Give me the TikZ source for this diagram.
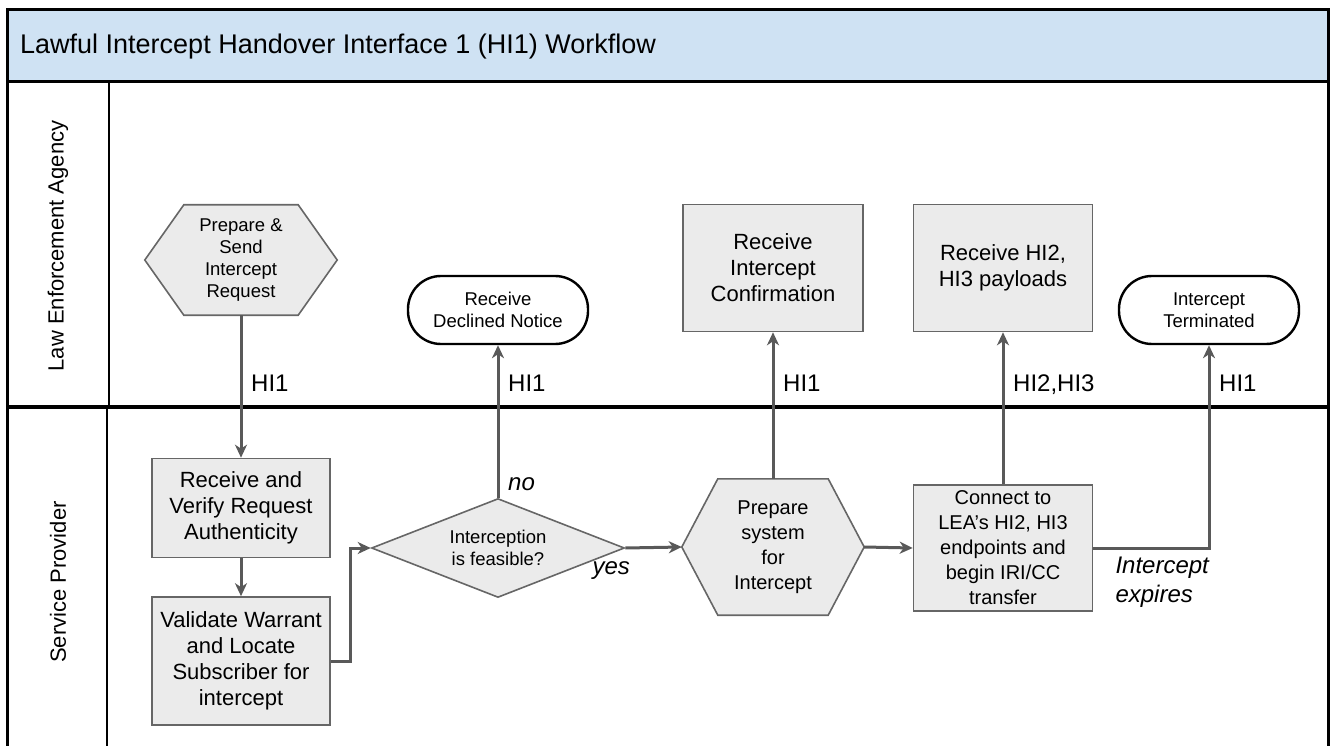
\documentclass[tikz,border=0pt]{standalone}
\usepackage{fontspec}
\setmainfont{Liberation Sans}
\usepackage{tikz}
\usetikzlibrary{arrows.meta,calc,positioning,shapes.geometric,backgrounds}
\definecolor{titleblue}{HTML}{CFE2F3}
\definecolor{boxgray}{HTML}{EBEBEB}
\definecolor{edgegray}{HTML}{666666}
\definecolor{flowgray}{HTML}{595959}
\newcommand{\fsz}[2]{\fontsize{#1}{#2}\selectfont}

\begin{document}
\begin{tikzpicture}[
    x=1pt, y=-1pt,
    swimlane/.style={draw=black,line width=3pt},
    lanetext/.style={rotate=90,font=\fsz{22}{26}},
    stepbox/.style={draw=edgegray,line width=1.6pt,fill=boxgray,align=center,
      inner sep=0pt,font=\fsz{22}{26}},
    hexbox/.style={inner sep=0pt,align=center},
    hexedge/.style={draw=edgegray,line width=1.6pt,fill=boxgray},
    stopbox/.style={draw=black,line width=2.4pt,fill=white,rounded corners=33pt,
      minimum width=180pt,minimum height=68pt,align=center,inner sep=0pt,
      font=\fsz{18.5}{22}},
    choice/.style={diamond,aspect=2.55,draw=edgegray,line width=1.6pt,fill=boxgray,
      align=center,inner sep=0pt,minimum width=253pt,minimum height=99pt,
      font=\fsz{18.5}{22}},
    flowarrow/.style={draw=flowgray,line width=3pt,
      -{Stealth[length=13pt,width=12pt,inset=4pt]}},
    hitext/.style={anchor=west,xshift=10pt,inner sep=0pt,text depth=0pt,
      font=\fsz{24}{28}},
    guardtext/.style={inner sep=0pt,align=left,font=\fsz{24}{29}\itshape}
  ]
    \useasboundingbox (0,0) rectangle (1334,746);

    % frame and lanes
    \path[fill=titleblue] (7,10) rectangle (1328,82);
    \node[anchor=west,inner sep=0pt,font=\fsz{27}{31}] (title) at (20,47)
      {Lawful Intercept Handover Interface 1 (HI1) Workflow};
    \draw[swimlane] (7,746) -- (7,10) -- (1328,10) -- (1328,746);
    \draw[swimlane] (7,82) -- (1328,82);
    \draw[swimlane,line width=4.5pt] (7,407) -- (1328,407);
    \draw[line width=2.5pt] (109,82) -- (109,407);
    \draw[line width=2.5pt] (107,407) -- (107,746);
    \node[lanetext] (lea) at (58,246) {Law Enforcement Agency};
    \node[lanetext] (provider) at (58,582) {Service Provider};
    \coordinate (hirow) at (0,383);

    % law enforcement agency
    \node[hexbox,minimum width=192pt,minimum height=110pt,font=\fsz{18.5}{21.7}]
      (sendreq) at (241,260) {Prepare \&\\Send\\Intercept\\Request};
    \node[stopbox] (declined) at (498,310) {Receive\\Declined Notice};
    \node[stepbox,minimum width=180pt,minimum height=127pt] (confirm) at (773,268)
      {Receive\\Intercept\\Confirmation};
    \node[stepbox,minimum width=179pt,minimum height=127pt] (payload) at (1003,268)
      {Receive HI2,\\HI3 payloads};
    \node[stopbox] (ended) at (1209,310) {Intercept\\Terminated};

    % service provider
    \node[stepbox,minimum width=178pt,minimum height=99pt] (verify) at (241,508)
      {Receive and\\Verify Request\\Authenticity};
    \node[stepbox,minimum width=178pt,minimum height=128pt] (validate) at (241,661)
      {Validate Warrant\\and Locate\\Subscriber for\\intercept};
    \node[choice] (feasible) at (498,548) {Interception\\is feasible?};
    \node[hexbox,minimum width=182pt,minimum height=136pt,font=\fsz{20}{25}]
      (prepsys) at (773,547) {Prepare\\system\\for\\Intercept};
    \node[stepbox,minimum width=179pt,minimum height=126pt,font=\fsz{20}{25}]
      (connect) at (1003,548)
      {Connect to\\LEA's HI2, HI3\\endpoints and\\begin IRI/CC\\transfer};

    \begin{scope}[on background layer]
      \foreach \hx/\cut in {sendreq/39,prepsys/36}
        \draw[hexedge] (\hx.west) -- ($(\hx.north west)+(\cut,0)$)
          -- ($(\hx.north east)+(-\cut,0)$) -- (\hx.east)
          -- ($(\hx.south east)+(-\cut,0)$) -- ($(\hx.south west)+(\cut,0)$) -- cycle;
    \end{scope}

    % connectors
    \draw[flowarrow] (sendreq) -- (verify);
    \node[hitext] (hisend) at (sendreq.south |- hirow) {HI1};
    \draw[flowarrow] (verify) -- (validate);
    \draw[flowarrow] (validate.east) -- ++(20,0) |- (feasible.west);
    \draw[flowarrow] (feasible.north) -- (declined.south);
    \node[hitext] (hidecline) at (declined.south |- hirow) {HI1};
    \node[guardtext,anchor=west] (no) at ($(feasible.north)+(10,-14)$) {no};
    \draw[flowarrow] (feasible.east) -- (prepsys.west);
    \node[guardtext,anchor=west] (yes) at ($(feasible.east)+(-33,23)$) {yes};
    \draw[flowarrow] (prepsys.north) -- (confirm.south);
    \node[hitext] (hiconfirm) at (confirm.south |- hirow) {HI1};
    \draw[flowarrow] (prepsys.east) -- (connect.west);
    \draw[flowarrow] (connect.north) -- (payload.south);
    \node[hitext] (hipayload) at (payload.south |- hirow) {HI2,HI3};
    \draw[flowarrow] (connect.east) -| (ended.south);
    \node[hitext] (hiend) at (ended.south |- hirow) {HI1};
    \node[guardtext,anchor=north west] (expires) at ($(connect.east)+(22,9)$)
      {Intercept\\expires};
  \end{tikzpicture}
\end{document}
